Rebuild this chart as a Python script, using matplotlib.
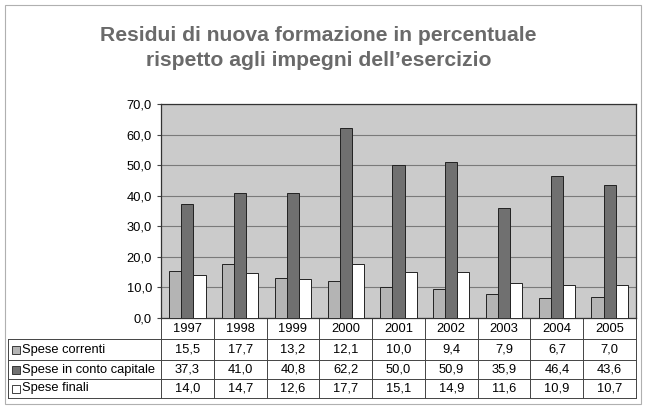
import matplotlib
matplotlib.use("Agg")
import matplotlib.pyplot as plt
import matplotlib.transforms as mtransforms
from matplotlib.patches import Rectangle
import numpy as np

plt.rcParams["font.family"] = ["Liberation Sans", "DejaVu Sans"]

# ── dati ─────────────────────────────────────────────
anni = ["1997", "1998", "1999", "2000", "2001", "2002", "2003", "2004", "2005"]
spese_correnti = [15.5, 17.7, 13.2, 12.1, 10.0, 9.4, 7.9, 6.7, 7.0]
spese_capitale = [37.3, 41.0, 40.8, 62.2, 50.0, 50.9, 35.9, 46.4, 43.6]
spese_finali = [14.0, 14.7, 12.6, 17.7, 15.1, 14.9, 11.6, 10.9, 10.7]
serie_nomi = ["Spese correnti", "Spese in conto capitale", "Spese finali"]
titolo = "Residui di nuova formazione in percentuale\nrispetto agli impegni dell\u2019esercizio"

W, H = 647, 409
colori = ["#b4b4b4", "#707070", "#ffffff"]

fig = plt.figure(figsize=(W / 100, H / 100), dpi=100)
fig.patch.set_facecolor("white")


def fy(py):
    return 1 - py / H


def fx(px):
    return px / W


# cornice esterna
fig.add_artist(Rectangle((fx(5), fy(404)), fx(636), 399 / H, transform=fig.transFigure,
                         fill=False, edgecolor="#b0b0b0", linewidth=0.8))

fig.text(0.492, fy(48), titolo, ha="center", va="center", fontsize=15.2,
         fontweight="bold", color="#6a6a6a", linespacing=1.4)

ax = fig.add_axes([fx(161), fy(318), fx(636 - 161), (318 - 104) / H])
ax.set_facecolor("#cbcbcb")
x = np.arange(len(anni))
w = 0.23
for i, (vals, c) in enumerate(zip([spese_correnti, spese_capitale, spese_finali], colori)):
    ax.bar(x + (i - 1) * w, vals, w, color=c, edgecolor="#222222", linewidth=0.7, zorder=3)

ax.set_xlim(-0.5, len(anni) - 0.5)
ax.set_ylim(0, 70)
ax.set_yticks(np.arange(0, 71, 10))
ax.set_yticklabels([f"{v:.1f}".replace(".", ",") for v in np.arange(0, 71, 10)], fontsize=9.3)
ax.yaxis.grid(True, color="#7a7a7a", linewidth=0.8, zorder=1)
ax.set_xticks([])
ax.tick_params(axis="y", length=3, color="#444444")
for s in ax.spines.values():
    s.set_color("#333333")
    s.set_linewidth(0.9)

# ── tabella dati ─────────────────────────────────────
tr = mtransforms.blended_transform_factory(ax.transData, fig.transFigure)
righe_y = [318, 339, 360, 379, 398]  # bordi in pixel
col_edges = np.arange(len(anni) + 1) - 0.5
line_kw = dict(color="#444444", linewidth=0.7)

# righe orizzontali
for j, py in enumerate(righe_y):
    if j == 0:
        continue
    ax.plot([-0.5, len(anni) - 0.5], [fy(py)] * 2, transform=tr, clip_on=False, **line_kw)
    fig.add_artist(plt.Line2D([fx(8), fx(161)], [fy(py)] * 2, transform=fig.transFigure, **line_kw))
# linee verticali
for ce in col_edges:
    ax.plot([ce, ce], [fy(318), fy(398)], transform=tr, clip_on=False, **line_kw)
fig.add_artist(plt.Line2D([fx(8), fx(8)], [fy(339), fy(398)], transform=fig.transFigure, **line_kw))

# anni
for i, a in enumerate(anni):
    ax.text(i, fy(328.5), a, transform=tr, ha="center", va="center", fontsize=9.3)

for r, (nome, vals, c) in enumerate(zip(serie_nomi,
                                        [spese_correnti, spese_capitale, spese_finali], colori)):
    cy = (righe_y[r + 1] + righe_y[r + 2]) / 2
    for i, v in enumerate(vals):
        ax.text(i, fy(cy), f"{v:.1f}".replace(".", ","), transform=tr,
                ha="center", va="center", fontsize=9.3)
    fig.add_artist(Rectangle((fx(12), fy(cy + 4)), fx(8), 8 / H, transform=fig.transFigure,
                             facecolor=c, edgecolor="#222222", linewidth=0.6))
    fig.text(fx(22), fy(cy), nome, ha="left", va="center", fontsize=9.3)

fig.savefig("out.png", dpi=100)
